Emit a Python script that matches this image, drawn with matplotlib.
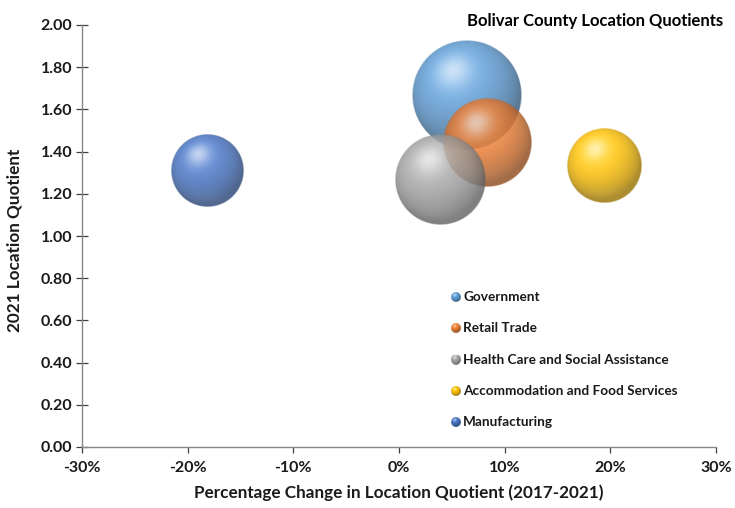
import numpy as np
import matplotlib
matplotlib.use("Agg")
import matplotlib.pyplot as plt
from matplotlib.colors import to_rgb
from matplotlib.ticker import FuncFormatter

# data
industries = ["Government", "Retail Trade", "Health Care and Social Assistance",
              "Accommodation and Food Services", "Manufacturing"]
pct_change = [6.4, 8.3, 3.9, 19.4, -18.2]          # % change in LQ 2017-2021
lq_2021 = [1.67, 1.44, 1.265, 1.33, 1.31]           # 2021 location quotient
bubble_size = [3025, 1940, 2030, 1370, 1300]        # relative bubble size
colors = ["#5B9BD5", "#ED7D31", "#A5A5A5", "#FFC000", "#4472C4"]

W, H, DPI = 735, 508, 100
plt.rcParams["font.family"] = ["Lato", "DejaVu Sans"]
plt.rcParams["font.weight"] = "bold"

fig = plt.figure(figsize=(W / DPI, H / DPI), dpi=DPI)
ax = fig.add_axes([82 / W, 1 - 447 / H, (716 - 82) / W, (447 - 25) / H])
ax.set_xlim(-30, 30)
ax.set_ylim(0, 2)


def sphere(rgb, n=200, alpha=0.82):
    # shaded ball image, light from upper left
    y, x = np.mgrid[1:-1:n * 1j, -1:1:n * 1j]
    r2 = x ** 2 + y ** 2
    nz = np.sqrt(np.clip(1 - r2, 0, 1))
    L = np.array([-0.25, 0.45, 0.86])
    L = L / np.linalg.norm(L)
    d = np.clip(x * L[0] + y * L[1] + nz * L[2], 0, 1)
    base = np.array(rgb)
    img = base[None, None, :] * (0.6 + 0.48 * d[..., None])
    spec = 0.6 * d ** 18
    img = img + (1 - img) * spec[..., None]
    # soft reflected light at the bottom
    refl = np.clip(-y - 0.5, 0, 1) * np.clip(1 - r2, 0, 1) * 0.7
    img = img + (1 - img) * refl[..., None] * 0.5
    img = np.clip(img, 0, 1)
    r = np.sqrt(r2)
    a = np.clip((1 - r) * n / 2, 0, 1) * alpha
    return np.dstack([img, a])


px_x = ax.get_window_extent().width / 60.0
px_y = ax.get_window_extent().height / 2.0
scale = 1.0  # pixel radius per sqrt(size)

for xv, yv, s, c in zip(pct_change, lq_2021, bubble_size, colors):
    r = scale * np.sqrt(s)
    rx, ry = r / px_x, r / px_y
    ax.imshow(sphere(to_rgb(c)), extent=[xv - rx, xv + rx, yv - ry, yv + ry],
              aspect="auto", interpolation="bilinear", zorder=3)

ax.set_xlim(-30, 30)
ax.set_ylim(0, 2)

ax.set_xticks(np.arange(-30, 31, 10))
ax.set_yticks(np.arange(0, 2.01, 0.2))
ax.xaxis.set_major_formatter(FuncFormatter(lambda v, p: f"{v:.0f}%"))
ax.yaxis.set_major_formatter(FuncFormatter(lambda v, p: f"{v:.2f}"))
for sp in ["top", "right"]:
    ax.spines[sp].set_visible(False)
for sp in ["left", "bottom"]:
    ax.spines[sp].set_color("#868686")
    ax.spines[sp].set_linewidth(1.0)
ax.tick_params(axis="y", direction="inout", length=8, width=0.9, color="#404040",
               labelsize=11.5, pad=3)
ax.tick_params(axis="x", direction="out", length=4, width=0.9, color="#404040",
               labelsize=11.5, pad=6)
for lbl in ax.get_xticklabels() + ax.get_yticklabels():
    lbl.set_fontweight("bold")
    lbl.set_color("#1a1a1a")

ax.set_xlabel("Percentage Change in Location Quotient (2017-2021)", fontsize=12.3,
              fontweight="bold", color="#1a1a1a", labelpad=7)
ax.set_ylabel("2021 Location Quotient", fontsize=12.3, fontweight="bold",
              color="#1a1a1a")
ax.yaxis.set_label_coords(-0.094, 0.49)

fig.text(467 / W, 1 - 21 / H, "Bolivar County Location Quotients", fontsize=12.0,
         fontweight="bold", color="#000000", ha="left", va="center")

# legend
for i, (name, c) in enumerate(zip(industries, colors)):
    yy = 1 - (297 + i * 31.3) / H
    lax = fig.add_axes([451 / W, yy - 5 / H, 10 / W, 10 / H])
    lax.imshow(sphere(to_rgb(c), n=60, alpha=1.0), interpolation="bilinear")
    lax.axis("off")
    fig.text(463 / W, yy, name, fontsize=9.8, fontweight="bold", color="#1a1a1a",
             ha="left", va="center")

fig.savefig("out.png", dpi=DPI)
